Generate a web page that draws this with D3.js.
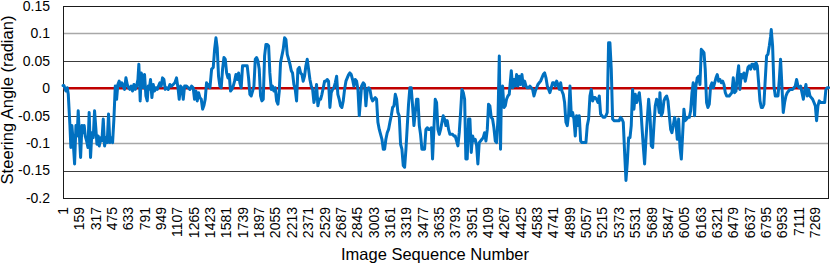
<!DOCTYPE html>
<html>
<head>
<meta charset="utf-8">
<script src="https://cdn.jsdelivr.net/npm/d3@7"></script>
<style>
  body { margin: 0; background: #fff; }
  svg { display: block; font-family: "Liberation Sans", Arial, sans-serif; }
</style>
</head>
<body>
<div id="chart"></div>
<script>
// steering angle (radian) vs. image sequence number
const steering = [
  [1,0.005],[10,0.005],[29,-0.005],[42,0.001],[52,-0.011],[68,-0.068],[77,-0.108],[87,-0.068],[100,-0.099],[113,-0.138],
  [126,-0.068],[138,-0.087],[148,-0.041],[158,-0.081],[171,-0.126],[184,-0.068],[196,-0.081],[206,-0.068],[216,-0.087],[229,-0.096],
  [242,-0.108],[254,-0.044],[267,-0.126],[280,-0.081],[293,-0.090],[306,-0.041],[319,-0.075],[329,-0.102],[341,-0.087],[351,-0.105],
  [364,-0.090],[377,-0.096],[390,-0.056],[403,-0.105],[416,-0.090],[428,-0.099],[441,-0.047],[454,-0.099],[467,-0.090],[480,-0.099],
  [493,-0.056],[506,0.004],[519,-0.020],[531,0.007],[544,0.013],[557,0.004],[570,0.010],[583,0.004],[596,-0.002],[609,0.019],
  [622,0.007],[635,0.001],[647,-0.002],[660,0.004],[673,-0.005],[686,0.007],[699,-0.002],[712,0.004],[725,0.016],[734,0.044],
  [747,-0.023],[757,0.028],[770,0.019],[779,0.001],[789,0.025],[802,-0.014],[815,-0.023],[825,0.004],[834,-0.002],[847,0.016],
  [860,-0.017],[873,0.007],[886,-0.005],[899,0.001],[912,-0.002],[924,0.004],[937,0.010],[950,0.004],[963,0.019],[976,0.016],
  [989,-0.002],[1002,0.001],[1018,-0.002],[1034,0.007],[1050,0.004],[1066,0.007],[1082,0.010],[1098,0.019],[1114,-0.002],[1124,-0.020],
  [1137,0.004],[1150,0.001],[1163,-0.020],[1176,0.004],[1195,0.004],[1211,0.001],[1227,-0.002],[1243,0.004],[1259,0.001],[1272,-0.020],
  [1285,-0.005],[1298,-0.023],[1311,-0.008],[1324,-0.017],[1337,-0.020],[1350,-0.038],[1362,-0.032],[1375,-0.020],[1388,0.010],[1401,0.004],
  [1414,0.007],
  [1421,0.001],[1437,0.035],[1453,0.038],[1466,0.071],[1479,0.092],[1491,0.074],[1504,0.022],[1517,0.004],[1530,0.001],[1543,0.035],
  [1556,0.056],[1569,0.053],[1582,0.028],[1595,0.019],[1607,0.025],[1620,-0.005],[1633,-0.002],[1646,0.004],[1659,0.013],[1672,0.025],
  [1685,0.016],[1698,0.028],[1710,0.010],[1723,0.001],[1736,0.041],[1749,0.041],[1768,0.041],[1781,0.041],[1794,0.019],[1807,-0.011],
  [1820,-0.014],[1833,-0.005],[1846,0.004],[1859,0.053],[1872,0.056],[1884,0.050],[1897,0.035],[1910,-0.014],[1923,-0.023],[1936,-0.020],
  [1949,0.059],[1962,0.080],[1975,0.080],[1988,0.077],[2000,0.028],[2013,-0.002],[2026,0.004],[2039,-0.005],[2052,0.001],[2065,-0.023],
  [2078,-0.029],[2091,-0.005],[2103,0.047],[2116,0.059],[2129,0.071],[2142,0.092],[2155,0.089],[2168,0.062],[2181,0.053],[2194,0.044],
  [2207,0.032],[2219,0.028],[2232,0.007],[2245,-0.002],[2258,-0.023],[2271,0.035],[2284,0.038],[2297,0.028],[2310,0.025],[2322,0.013],
  [2335,0.022],[2348,0.041],[2361,0.053],[2374,0.035],[2387,0.016],[2400,0.004],[2413,-0.002],[2426,-0.026],[2438,-0.014],[2451,0.007],
  [2464,-0.032],[2477,-0.020],[2490,-0.020],[2503,-0.011],[2516,0.001],[2529,0.013],[2541,0.013],[2554,0.016],[2567,0.013],[2580,-0.035],
  [2593,-0.008],[2606,-0.002],[2619,0.001],[2632,0.010],[2645,0.022],[2657,-0.011],[2670,-0.020],[2683,-0.032],[2696,-0.035],[2709,-0.023],
  [2722,-0.002],[2735,0.013],[2748,0.019],[2761,0.025],[2773,0.028],[2786,0.025],[2799,0.016],[2812,0.004],[2825,0.016],[2838,0.013],
  [2851,-0.002],[2864,-0.050],
  [2886,0.004],[2902,0.010],[2915,0.007],[2928,-0.032],[2941,-0.002],[2954,0.001],[2967,-0.002],[2980,-0.017],[2993,-0.023],[3005,-0.020],
  [3018,-0.017],[3031,-0.020],[3044,-0.062],[3057,-0.075],[3070,-0.084],[3083,-0.093],[3096,-0.111],[3109,-0.111],[3121,-0.093],[3134,-0.081],
  [3147,-0.075],[3160,-0.062],[3173,-0.050],[3186,-0.035],[3199,-0.032],[3212,-0.011],[3225,-0.020],[3237,-0.044],[3250,-0.050],[3263,-0.102],
  [3276,-0.111],[3289,-0.141],[3302,-0.144],[3315,-0.111],[3328,-0.068],[3340,-0.029],[3353,0.001],[3366,0.001],[3379,-0.032],[3392,-0.068],
  [3405,-0.044],[3418,-0.020],[3431,-0.020],[3444,-0.068],[3456,-0.084],[3469,-0.111],[3482,-0.111],[3495,-0.111],[3508,-0.075],[3521,-0.072],
  [3534,-0.075],[3547,-0.075],[3560,-0.072],[3572,-0.129],[3585,-0.075],[3598,-0.020],[3611,-0.026],[3624,-0.075],[3637,-0.084],[3650,-0.075],
  [3663,-0.062],[3675,-0.050],[3688,-0.056],[3701,-0.068],[3714,-0.059],[3727,-0.075],[3740,-0.084],[3753,-0.084],[3766,-0.084],[3779,-0.087],
  [3791,-0.087],[3804,-0.096],[3817,-0.105],[3830,-0.081],[3843,-0.044],[3856,-0.002],[3869,-0.008],[3882,-0.020],[3894,-0.129],[3907,-0.129],
  [3920,-0.056],[3933,-0.056],[3946,-0.117],[3959,-0.087],[3972,-0.096],[3985,-0.093],[3998,-0.105],[4010,-0.138],[4023,-0.099],[4036,-0.096],
  [4049,-0.093],[4062,-0.090],[4075,-0.081],[4088,-0.096],[4101,-0.075],[4113,-0.029],[4126,-0.032],[4139,-0.053],[4152,-0.056],[4165,-0.072],
  [4178,-0.096],[4191,-0.099],[4204,-0.056],[4217,0.059],[4229,-0.111],[4236,-0.026],[4249,0.004],[4262,-0.035],[4275,-0.032],[4287,-0.020],
  [4300,-0.014],[4313,-0.011],
  [4333,0.032],[4346,0.001],[4359,0.016],[4371,0.004],[4384,0.025],[4397,0.004],[4410,0.022],[4423,0.007],[4436,0.025],[4449,0.004],
  [4462,0.013],[4475,0.004],[4487,0.001],[4500,0.001],[4513,0.004],[4526,0.001],[4539,-0.002],[4552,-0.014],[4565,-0.005],[4578,0.001],
  [4590,0.007],[4603,0.010],[4616,0.013],[4629,0.019],[4642,0.025],[4655,0.028],[4668,0.019],[4681,0.004],[4694,-0.002],[4706,-0.008],
  [4719,0.001],[4732,0.010],[4745,0.010],[4758,0.004],[4771,0.013],[4784,0.007],[4797,-0.002],[4810,0.010],[4822,-0.005],[4835,-0.011],
  [4848,-0.026],[4861,-0.062],[4874,-0.068],[4887,-0.047],[4900,0.004],[4913,-0.050],[4925,-0.044],[4938,-0.056],[4951,-0.087],[4964,-0.050],
  [4977,-0.068],[4990,-0.050],[5003,-0.096],[5016,-0.099],[5029,-0.099],[5041,-0.099],[5054,-0.099],[5067,-0.068],[5080,-0.056],[5093,-0.014],
  [5106,-0.002],[5119,-0.023],[5132,-0.017],[5144,-0.017],[5157,-0.020],[5170,-0.026],[5183,-0.014],[5196,-0.047],[5209,-0.050],[5222,-0.053],
  [5235,-0.053],[5248,-0.050],[5260,-0.044],[5273,0.083],[5286,0.083],[5299,0.035],[5312,-0.056],[5325,-0.059],[5338,-0.059],[5351,-0.059],
  [5364,-0.059],[5376,-0.059],[5389,-0.053],[5402,-0.056],[5415,-0.062],[5428,-0.117],[5441,-0.168],[5454,-0.135],[5467,-0.090],[5480,-0.090],
  [5492,-0.068],[5505,-0.002],[5518,-0.038],[5531,-0.011],[5544,-0.026],[5557,-0.017],[5570,-0.008],[5583,-0.032],[5595,-0.068],[5608,-0.105],
  [5621,-0.138],[5634,-0.093],[5647,-0.056],[5660,-0.020],[5673,-0.047],[5686,-0.105],[5699,-0.108],[5711,-0.068],[5724,-0.032],[5737,-0.020],
  [5750,-0.026],[5763,-0.044],
  [5769,-0.008],[5782,-0.050],[5795,-0.044],[5808,-0.023],[5821,-0.017],[5834,-0.014],[5847,-0.023],[5860,-0.050],[5873,-0.075],[5885,-0.081],
  [5898,-0.068],[5911,-0.053],[5924,-0.065],[5937,-0.093],[5950,-0.056],[5963,-0.108],[5976,-0.129],[5988,-0.087],[6001,-0.038],[6014,-0.059],
  [6027,-0.056],[6040,-0.053],[6053,-0.053],[6066,-0.041],[6079,-0.008],[6091,0.010],[6104,-0.050],[6117,0.004],[6130,0.019],[6143,0.022],
  [6156,0.007],[6169,0.071],[6182,0.068],[6195,0.065],[6207,0.035],[6220,-0.026],[6233,-0.035],[6246,-0.029],[6259,0.004],[6272,0.010],
  [6285,0.001],[6298,0.010],[6311,0.019],[6323,0.025],[6336,0.013],[6349,0.016],[6362,0.010],[6375,0.013],[6388,0.007],[6401,-0.008],
  [6414,-0.014],[6427,-0.014],[6439,-0.014],[6452,-0.011],[6465,-0.008],[6478,0.019],[6491,-0.008],[6504,-0.005],[6517,0.022],[6530,0.041],
  [6542,-0.002],[6555,0.025],[6568,0.019],[6581,0.028],[6594,0.013],[6607,0.025],[6620,0.038],[6633,0.041],[6646,0.035],[6658,0.044],
  [6671,0.044],[6684,0.035],[6697,0.047],[6710,0.041],[6723,0.010],[6736,-0.023],[6749,-0.035],[6761,-0.035],[6774,-0.029],[6787,0.016],
  [6800,0.059],[6813,0.062],[6826,0.077],[6839,0.095],[6845,0.107],[6858,0.077],[6871,0.004],[6884,-0.014],[6897,-0.014],[6910,-0.014],
  [6923,0.016],[6935,0.053],[6948,0.004],[6961,-0.044],[6974,-0.026],[6987,-0.014],[7000,-0.008],[7013,-0.005],[7026,-0.002],[7039,-0.002],
  [7051,-0.002],[7064,0.001],[7077,0.004],[7090,0.016],[7103,0.004],[7116,0.001],[7129,0.004],[7142,-0.008],[7155,-0.020],[7167,-0.005],
  [7180,0.007],[7193,-0.014],[7206,-0.002],[7219,-0.014],[7232,-0.017],[7245,-0.020],[7258,-0.026],[7271,-0.032],[7283,-0.059],[7296,-0.032],
  [7309,-0.023],[7322,-0.026],[7335,-0.026],[7348,-0.026],[7361,-0.026],[7373,-0.002],[7386,0.001],[7399,0.001]
];

const lastSeq = 7403;
const xTicks = [1,159,317,475,633,791,949,1107,1265,1423,1581,1739,1897,2055,2213,2371,2529,2687,2845,3003,
  3161,3319,3477,3635,3793,3951,4109,4267,4425,4583,4741,4899,5057,5215,5373,5531,5689,5847,6005,6163,
  6321,6479,6637,6795,6953,7111,7269];
const yTicks = [0.15, 0.1, 0.05, 0, -0.05, -0.1, -0.15, -0.2];
const yLabels = ["0.15", "0.1", "0.05", "0", "-0.05", "-0.1", "-0.15", "-0.2"];

const w = 830, h = 264;
const margin = { left: 63, right: 1, top: 6, bottom: 66 };

const svg = d3.select("#chart").append("svg")
  .attr("width", w)
  .attr("height", h);

const x = d3.scaleLinear().domain([1, lastSeq]).range([margin.left, w - margin.right]);
const y = d3.scaleLinear().domain([-0.2, 0.15]).range([h - margin.bottom, margin.top]);

// gridlines (the +/-0.1 lines render lighter in the original)
svg.append("g")
  .selectAll("line")
  .data(yTicks.filter(d => d !== 0))
  .enter()
  .append("line")
  .attr("x1", margin.left)
  .attr("x2", w - margin.right)
  .attr("y1", d => Math.round(y(d)) + 0.5)
  .attr("y2", d => Math.round(y(d)) + 0.5)
  .attr("stroke", d => Math.abs(Math.abs(d) - 0.1) < 1e-9 ? "#a8a8a8" : "#3c3c3c")
  .attr("stroke-width", d => Math.abs(Math.abs(d) - 0.1) < 1e-9 ? 1.6 : 1);

// plot frame
svg.append("rect")
  .attr("x", margin.left + 0.5)
  .attr("y", Math.round(y(0.15)) + 0.5)
  .attr("width", w - margin.right - margin.left - 1)
  .attr("height", Math.round(y(-0.2)) - Math.round(y(0.15)))
  .attr("fill", "none")
  .attr("stroke", "#1a1a1a");

// zero line
svg.append("line")
  .attr("x1", margin.left)
  .attr("x2", w - margin.right)
  .attr("y1", y(0))
  .attr("y2", y(0))
  .attr("stroke", "#c00000")
  .attr("stroke-width", 2.5);

// the series
const line = d3.line()
  .x(d => x(d[0]))
  .y(d => y(d[1]));

svg.append("path")
  .datum(steering)
  .attr("d", line)
  .attr("fill", "none")
  .attr("stroke", "#0070c0")
  .attr("stroke-width", 3)
  .attr("stroke-linejoin", "round")
  .attr("stroke-linecap", "round");

// y tick labels
svg.append("g")
  .selectAll("text")
  .data(yTicks)
  .enter()
  .append("text")
  .attr("x", 50)
  .attr("y", d => y(d))
  .attr("dy", "0.35em")
  .attr("text-anchor", "end")
  .attr("font-size", 14)
  .attr("fill", "#000")
  .text((d, i) => yLabels[i]);

// x tick labels, rotated
svg.append("g")
  .selectAll("text")
  .data(xTicks)
  .enter()
  .append("text")
  .attr("transform", d => `translate(${x(d)},207) rotate(-90)`)
  .attr("dy", "0.35em")
  .attr("text-anchor", "end")
  .attr("font-size", 14)
  .attr("fill", "#000")
  .text(d => d);

// axis titles
svg.append("text")
  .attr("x", 435)
  .attr("y", 260)
  .attr("text-anchor", "middle")
  .attr("font-size", 16.5)
  .attr("fill", "#000")
  .text("Image Sequence Number");

svg.append("text")
  .attr("transform", "translate(13,100) rotate(-90)")
  .attr("text-anchor", "middle")
  .attr("font-size", 16.5)
  .attr("fill", "#000")
  .text("Steering Angle (radian)");
</script>
</body>
</html>
